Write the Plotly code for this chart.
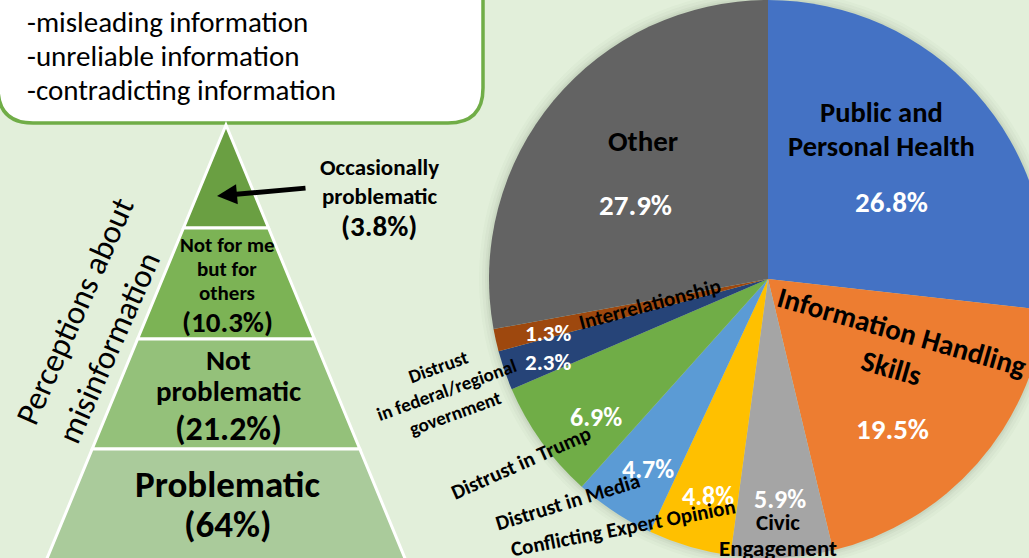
import plotly.graph_objects as go

# canvas slightly larger than the 1029x558 view so the pie can run off the edges like the reference crop
W, H = 1048, 560
FONT = "Calibri, Carlito, Lato, sans-serif"

# ---------------- data ----------------
topics = ["Public and Personal Health", "Information Handling Skills", "Civic Engagement",
          "Conflicting Expert Opinion", "Distrust in Media", "Distrust in Trump",
          "Distrust in federal/regional government", "Interrelationship", "Other"]
shares = [26.8, 19.5, 5.9, 4.8, 4.7, 6.9, 2.3, 1.3, 27.9]
share_text = ["26.8%", "19.5%", "5.9%", "4.8%", "4.7%", "6.9%", "2.3%", "1.3%", "27.9%"]
slice_colors = ["#4472C4", "#ED7D31", "#A5A5A5", "#FFC000", "#5B9BD5",
                "#70AD47", "#264478", "#9E480E", "#636363"]

levels = ["Occasionally problematic", "Not for me but for others", "Not problematic", "Problematic"]
level_pct = ["(3.8%)", "(10.3%)", "(21.2%)", "(64%)"]
level_colors = ["#6A9F42", "#7CB355", "#94C17A", "#AACB9B"]

bullets = ["-misleading information", "-unreliable information", "-contradicting information"]
side_title = ["Perceptions about", "misinformation"]

# ---------------- layout geometry ----------------
BG = "#E2EFDA"
PIE_C = (768, 279)
PIE_R = 279
PIE_DOM_X = [(PIE_C[0] - PIE_R) / W, (PIE_C[0] + PIE_R) / W]
PIE_DOM_Y = [1 - (PIE_C[1] + PIE_R) / H, 1 - (PIE_C[1] - PIE_R) / H]
R = min((PIE_DOM_X[1] - PIE_DOM_X[0]) * W, (PIE_DOM_Y[1] - PIE_DOM_Y[0]) * H) / 2
CX = (PIE_DOM_X[0] + PIE_DOM_X[1]) / 2 * W
CY = H - (PIE_DOM_Y[0] + PIE_DOM_Y[1]) / 2 * H
S = R / 280.0


def P(dx, dy):
    return CX + dx * S, CY + dy * S


def ann(x, y, text, size, color="black", bold=True, angle=0, xanchor="center", align="center"):
    return dict(x=x, y=y, xref="x", yref="y", text=text, showarrow=False,
                font=dict(family=FONT, size=size, color=color, weight="bold" if bold else "normal"),
                textangle=angle, xanchor=xanchor, yanchor="middle", align=align)


fig = go.Figure()
fig.add_trace(go.Scatter(x=[], y=[], showlegend=False, hoverinfo="skip"))
fig.add_trace(go.Pie(values=shares, labels=topics, sort=False, direction="clockwise", rotation=0,
                     marker=dict(colors=slice_colors, line=dict(width=0)),
                     textinfo="none", hoverinfo="label+percent", showlegend=False,
                     domain=dict(x=PIE_DOM_X, y=PIE_DOM_Y)))

shapes = []
# soft halo around the pie
for d, a in [(10, 0.025), (7, 0.03), (4, 0.04), (2, 0.05)]:
    shapes.append(dict(type="circle", xref="x", yref="y", x0=CX - R - d, x1=CX + R + d,
                       y0=CY - R - d, y1=CY + R + d, fillcolor=f"rgba(60,70,50,{a})",
                       line=dict(width=0), layer="below"))

# rounded text box
x0, x1, y0, y1, r = -2, 483, -40, 123, 35
shapes.append(dict(type="path", xref="x", yref="y",
                   path=f"M {x0},{y0} L {x1},{y0} L {x1},{y1 - r} Q {x1},{y1} {x1 - r},{y1} "
                        f"L {x0 + r},{y1} Q {x0},{y1} {x0},{y1 - r} Z",
                   fillcolor="white", line=dict(color="#70AD47", width=3.5), layer="above"))

# pyramid
AX, AY, K = 226, 125, 0.413
edges = [125, 228, 339, 449, 640]
for i, col in enumerate(level_colors):
    ya, yb = edges[i], edges[i + 1]
    la, ra = AX - K * (ya - AY), AX + K * (ya - AY)
    lb, rb = AX - K * (yb - AY), AX + K * (yb - AY)
    shapes.append(dict(type="path", xref="x", yref="y",
                       path=f"M {la},{ya} L {ra},{ya} L {rb},{yb} L {lb},{yb} Z",
                       fillcolor=col, line=dict(color="white", width=3), layer="above"))

annotations = []
# bullet text
for i, t in enumerate(bullets):
    annotations.append(ann(25, 22 + 34 * i, t, 29, bold=False, xanchor="left"))

# side title
annotations.append(ann(75, 311, side_title[0], 33, bold=False, angle=-66))
annotations.append(ann(109, 348, side_title[1], 33, bold=False, angle=-66))

# pyramid labels
annotations.append(ann(379, 167, "Occasionally", 23))
annotations.append(ann(379, 196, "problematic", 23))
annotations.append(ann(379, 226, level_pct[0], 29))
annotations.append(ann(AX + 1, 245, "Not for me", 21))
annotations.append(ann(AX + 1, 269, "but for", 21))
annotations.append(ann(AX + 1, 293, "others", 21))
annotations.append(ann(AX + 1, 322, level_pct[1], 29))
annotations.append(ann(AX + 2, 360, "Not", 29))
annotations.append(ann(AX + 2, 391, "problematic", 29))
annotations.append(ann(AX + 2, 428, level_pct[2], 34))
annotations.append(ann(AX + 2, 484, "Problematic", 37))
annotations.append(ann(AX + 2, 524, level_pct[3], 37))
# arrow
annotations.append(dict(x=217, y=196, xref="x", yref="y", ax=307, ay=188, axref="x", ayref="y",
                        text="", showarrow=True, arrowhead=2, arrowsize=0.8, arrowwidth=5,
                        arrowcolor="black"))

# pie labels
val_pos = [(124, -77), (125, 151), (12, 221), (-60, 218), (-120, 191),
           (-173, 138), (-221, 83), (-221, 54), (-133, -74)]
val_size = [29, 29, 26, 26, 26, 26, 23, 23, 29]
for i, t in enumerate(share_text):
    x, y = P(*val_pos[i])
    annotations.append(ann(x, y, t, val_size[i], color="white"))

name_specs = [
    ("Public and", (114, -167), 0, 28.5),
    ("Personal Health", (114, -133), 0, 28.5),
    ("Information Handling<br>Skills", (129, 71), 16, 29),
    ("Civic", (10, 244), 0, 23),
    ("Engagement", (10, 270), 0, 23),
    ("Conflicting Expert Opinion", (-146, 250), -11, 21),
    ("Distrust in Media", (-201, 224), -17, 21),
    ("Distrust in Trump", (-248, 185), -24, 21),
    ("Distrust<br>in federal/regional<br>government", (-323, 111), -20, 19),
    ("Interrelationship", (-118, 25), -15, 21),
    ("Other", (-125, -139), 0, 29),
]
for t, off, ang, sz in name_specs:
    x, y = P(*off)
    annotations.append(ann(x, y, t, sz, angle=ang))

fig.update_layout(
    width=W, height=H, margin=dict(l=0, r=0, t=0, b=0),
    paper_bgcolor=BG, plot_bgcolor="rgba(0,0,0,0)",
    xaxis=dict(range=[0, W], visible=False, fixedrange=True, domain=[0, 1]),
    yaxis=dict(range=[H, 0], visible=False, fixedrange=True, domain=[0, 1]),
    shapes=shapes, annotations=annotations, showlegend=False,
    font=dict(family=FONT),
)

fig.write_html("out.html", config={"displayModeBar": False}, post_script=(
    "document.body.style.margin='0px';"
    "document.body.style.overflow='hidden';"
    "document.documentElement.style.overflow='hidden';"))
